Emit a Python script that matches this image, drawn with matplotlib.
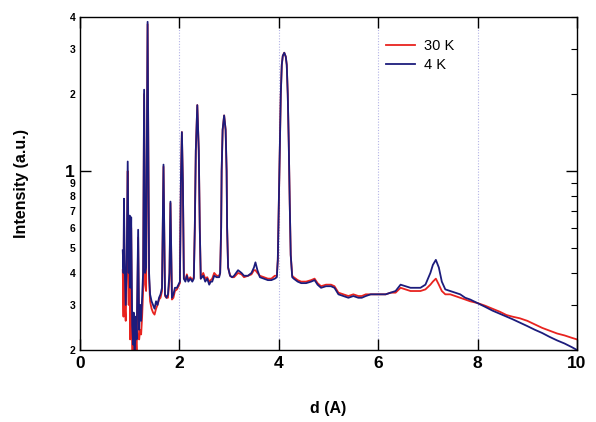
import matplotlib
matplotlib.use("Agg")
import matplotlib.pyplot as plt
from matplotlib.ticker import FixedLocator, FixedFormatter

plt.rcParams['font.family'] = ['Liberation Sans', 'DejaVu Sans']

# d-spacing (A) sample positions
d = [0.86, 0.875, 0.885, 0.90, 0.92, 0.94, 0.96, 0.98, 1.00, 1.01, 1.03, 1.05, 1.07, 1.08,
     1.10, 1.12, 1.14, 1.17, 1.19, 1.21, 1.23, 1.25, 1.27, 1.29, 1.31, 1.33, 1.36, 1.39,
     1.41, 1.44, 1.47, 1.50, 1.53, 1.56, 1.59, 1.62, 1.65, 1.68, 1.71, 1.74, 1.77, 1.80,
     1.82, 1.85, 1.88, 1.91, 1.95, 1.98, 2.01,
     2.03, 2.05, 2.07, 2.09, 2.12, 2.15, 2.18, 2.22, 2.26, 2.29, 2.31, 2.33, 2.36, 2.39,
     2.41, 2.43, 2.48, 2.52, 2.56, 2.60, 2.63, 2.66, 2.70, 2.75, 2.80, 2.82, 2.84, 2.85,
     2.87, 2.90, 2.93, 2.95, 2.96, 2.98, 3.02, 3.06, 3.10, 3.18, 3.25, 3.30, 3.38, 3.45,
     3.50, 3.53, 3.57, 3.62, 3.70, 3.78, 3.85, 3.92, 3.96, 3.98, 4.00, 4.02, 4.04, 4.06,
     4.08, 4.11, 4.14, 4.16, 4.18, 4.20, 4.22, 4.24, 4.27, 4.30,
     4.38, 4.45, 4.55, 4.65, 4.72, 4.78, 4.85, 4.95, 5.05, 5.12, 5.20,
     5.30, 5.40, 5.50, 5.60, 5.67, 5.75, 5.85, 5.95, 6.05, 6.15, 6.25, 6.35, 6.45, 6.55,
     6.65, 6.75, 6.85, 6.95, 7.05, 7.10, 7.16, 7.22, 7.28, 7.35, 7.45, 7.55, 7.65, 7.75,
     7.85, 8.00, 8.15, 8.30, 8.45, 8.58, 8.70, 8.85, 9.00, 9.15, 9.30, 9.45, 9.60, 9.75,
     9.90, 10.0]

# Intensity at 30 K
i_30K = [0.41, 0.27, 0.70, 0.30, 0.26, 0.40, 1.00, 0.30, 0.62, 0.22, 0.60, 0.19, 0.18, 0.22,
         0.17, 0.23, 0.19, 0.55, 0.22, 0.24, 0.23, 0.27, 0.34, 2.00, 0.36, 0.34, 3.75, 0.38,
         0.31, 0.29, 0.28, 0.275, 0.29, 0.30, 0.315, 0.32, 0.34, 1.04, 0.325, 0.32, 0.32, 0.38,
         0.75, 0.315, 0.32, 0.34, 0.345, 0.355, 0.365,
         0.9, 1.42, 0.9, 0.38, 0.375, 0.395, 0.375, 0.385, 0.375, 0.385, 0.6, 1.2, 1.81, 1.2,
         0.6, 0.38, 0.40, 0.38, 0.385, 0.37, 0.375, 0.38, 0.40, 0.39, 0.39, 0.40, 0.6, 1.0,
         1.45, 1.65, 1.45, 1.0, 0.6, 0.42, 0.39, 0.385, 0.385, 0.40, 0.395, 0.385, 0.39, 0.395,
         0.41, 0.41, 0.40, 0.39, 0.385, 0.38, 0.38, 0.39, 0.39, 0.45, 0.75, 1.3, 2.0, 2.6,
         2.82, 2.9, 2.8, 2.6, 2.0, 1.3, 0.75, 0.47, 0.39, 0.385,
         0.375, 0.37, 0.37, 0.375, 0.38, 0.365, 0.355, 0.36, 0.36, 0.355, 0.335,
         0.33, 0.325, 0.33, 0.325, 0.325, 0.33, 0.33, 0.33, 0.33, 0.33, 0.335, 0.335, 0.35, 0.345,
         0.34, 0.34, 0.34, 0.345, 0.36, 0.37, 0.38, 0.36, 0.34, 0.33, 0.33, 0.325, 0.32, 0.315,
         0.31, 0.305, 0.298, 0.29, 0.282, 0.274, 0.27, 0.266, 0.26, 0.252, 0.244, 0.238, 0.232, 0.228,
         0.223, 0.22]

# Intensity at 4 K
i_4K = [0.49, 0.40, 0.78, 0.42, 0.30, 0.45, 1.09, 0.40, 0.67, 0.35, 0.66, 0.25, 0.21, 0.28,
        0.18, 0.27, 0.22, 0.59, 0.24, 0.30, 0.26, 0.32, 0.40, 2.08, 0.40, 0.42, 3.83, 0.40,
        0.33, 0.31, 0.30, 0.29, 0.31, 0.30, 0.32, 0.33, 0.35, 1.06, 0.33, 0.32, 0.33, 0.40,
        0.76, 0.32, 0.33, 0.35, 0.35, 0.36, 0.37,
        0.9, 1.42, 0.9, 0.38, 0.37, 0.39, 0.37, 0.38, 0.37, 0.38, 0.6, 1.2, 1.81, 1.2,
        0.6, 0.38, 0.39, 0.37, 0.38, 0.36, 0.37, 0.37, 0.39, 0.385, 0.385, 0.40, 0.6, 1.0,
        1.45, 1.65, 1.45, 1.0, 0.6, 0.42, 0.39, 0.385, 0.39, 0.41, 0.40, 0.39, 0.39, 0.40,
        0.42, 0.44, 0.41, 0.385, 0.38, 0.375, 0.375, 0.38, 0.385, 0.45, 0.75, 1.3, 2.0, 2.6,
        2.82, 2.9, 2.8, 2.6, 2.0, 1.3, 0.75, 0.47, 0.385, 0.38,
        0.37, 0.365, 0.365, 0.37, 0.375, 0.36, 0.35, 0.355, 0.355, 0.35, 0.33,
        0.325, 0.32, 0.325, 0.32, 0.32, 0.325, 0.33, 0.33, 0.33, 0.33, 0.335, 0.34, 0.36, 0.355,
        0.35, 0.35, 0.35, 0.36, 0.40, 0.43, 0.45, 0.42, 0.37, 0.345, 0.34, 0.335, 0.33, 0.32,
        0.315, 0.305, 0.295, 0.285, 0.277, 0.27, 0.264, 0.256, 0.248, 0.24, 0.233, 0.225, 0.218, 0.212,
        0.205, 0.20]

assert len(d) == len(i_30K) == len(i_4K)

series_labels = ["30 K", "4 K"]
x_ticks = [0, 2, 4, 6, 8, 10]
y_minor_ticks = [0.2, 0.3, 0.4, 0.5, 0.6, 0.7, 0.8, 0.9, 2, 3, 4]
y_minor_labels = ["2", "3", "4", "5", "6", "7", "8", "9", "2", "3", "4"]

fig = plt.figure(figsize=(5.96, 4.22), dpi=100)
ax = fig.add_axes([80/596, 1 - 350/422, 497/596, 333/422])

ax.plot(d, i_30K, color='#e8231f', lw=1.3, label=series_labels[0])
ax.plot(d, i_4K, color='#1c1c7c', lw=1.3, label=series_labels[1])

ax.set_yscale('log')
ax.set_xlim(0, 10)
ax.set_ylim(0.2, 4)

for xv in [2, 4, 6, 8]:
    ax.axvline(xv, color='#b4b4e6', lw=0.8, ls=(0, (1, 1.5)), zorder=0)

ax.xaxis.set_major_locator(FixedLocator(x_ticks))
ax.set_xticklabels([str(v) for v in x_ticks], fontsize=12.5, fontweight='bold')
ax.tick_params(axis='x', which='major', direction='in', length=8, width=1.0,
               top=True, bottom=True, pad=4)

ax.yaxis.set_major_locator(FixedLocator([1]))
ax.yaxis.set_major_formatter(FixedFormatter(["1"]))
ax.yaxis.set_minor_locator(FixedLocator(y_minor_ticks))
ax.yaxis.set_minor_formatter(FixedFormatter(y_minor_labels))
ax.tick_params(axis='y', which='major', direction='in', length=8, width=1.0,
               left=True, right=True, labelsize=12.5, pad=4)
ax.tick_params(axis='y', which='minor', direction='in', length=4, width=0.8,
               left=False, right=True, labelleft=True, labelsize=7.5, pad=3)
for lab in ax.get_yticklabels(which='both'):
    lab.set_fontweight('bold')

for sp in ax.spines.values():
    sp.set_linewidth(1.0)

ax.set_xlabel("d (A)", fontsize=11.5, fontweight='bold', labelpad=22)
ax.set_ylabel("Intensity (a.u.)", fontsize=11.5, fontweight='bold', labelpad=26)

leg = ax.legend(loc='upper left', bbox_to_anchor=(0.616, 0.935), frameon=False,
                fontsize=10.5, handlelength=2.0, handletextpad=0.6,
                labelspacing=0.4, borderpad=0, borderaxespad=0)

fig.savefig("out.png", dpi=100)
